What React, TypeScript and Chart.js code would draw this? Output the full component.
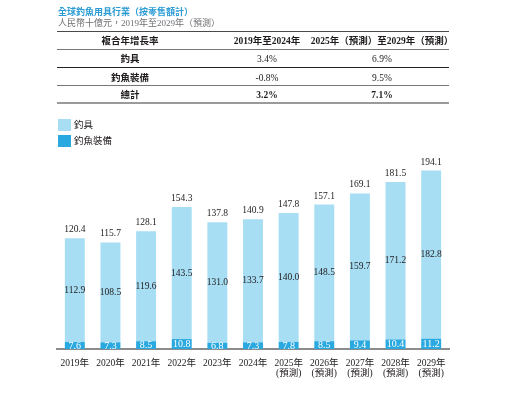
import React, { useEffect, useRef } from "react";
import { Chart, registerables } from "chart.js";

Chart.register(...registerables);

const years = ["2019年", "2020年", "2021年", "2022年", "2023年", "2024年", "2025年", "2026年", "2027年", "2028年", "2029年"];
const forecastNote = "(預測)";
const forecastFrom = 6;
const equipment = [7.6, 7.3, 8.5, 10.8, 6.8, 7.3, 7.8, 8.5, 9.4, 10.4, 11.2];
const tackle = [112.9, 108.5, 119.6, 143.5, 131.0, 133.7, 140.0, 148.5, 159.7, 171.2, 182.8];
const totals = [120.4, 115.7, 128.1, 154.3, 137.8, 140.9, 147.8, 157.1, 169.1, 181.5, 194.1];

const seriesNames = ["釣具", "釣魚裝備"];
const tableHeader = ["複合年增長率", "2019年至2024年", "2025年（預測）至2029年（預測）"];
const tableRows = [
  ["釣具", "3.4%", "6.9%"],
  ["釣魚裝備", "-0.8%", "9.5%"],
  ["總計", "3.2%", "7.1%"],
];

const LIGHT = "#a7def3";
const DARK = "#29a9e0";
const TEXT = "#1f1b1c";
const FONT = "'Liberation Serif', 'Noto Sans CJK TC', serif";

const labelPlugin = {
  id: "barLabels",
  afterDatasetsDraw(chart: any) {
    const ctx = chart.ctx;
    const m0 = chart.getDatasetMeta(0);
    const m1 = chart.getDatasetMeta(1);
    ctx.save();
    ctx.textAlign = "center";
    ctx.textBaseline = "middle";
    m0.data.forEach((bar: any, i: number) => {
      const top = m1.data[i];
      ctx.font = `10px ${FONT}`;
      ctx.fillStyle = "#ffffff";
      ctx.fillText(equipment[i].toFixed(1), bar.x, (bar.y + bar.base) / 2 + 0.5);
      ctx.font = `9.5px ${FONT}`;
      ctx.fillStyle = TEXT;
      ctx.fillText(tackle[i].toFixed(1), top.x, (top.y + top.base) / 2);
      ctx.fillText(totals[i].toFixed(1), top.x, top.y - 8.5);
    });
    ctx.restore();
  },
};

function ChartCanvas() {
  const ref = useRef<HTMLCanvasElement | null>(null);
  useEffect(() => {
    if (!ref.current) return;
    const labels = years.map((y, i) => (i >= forecastFrom ? [y, forecastNote] : [y]));
    const chart = new Chart(ref.current, {
      type: "bar",
      data: {
        labels,
        datasets: [
          { label: seriesNames[1], data: equipment, backgroundColor: DARK, barPercentage: 0.56, categoryPercentage: 1 },
          { label: seriesNames[0], data: tackle, backgroundColor: LIGHT, barPercentage: 0.56, categoryPercentage: 1 },
        ],
      },
      options: {
        animation: false,
        responsive: false,
        maintainAspectRatio: false,
        layout: { padding: { left: 57, right: 65, top: 165, bottom: 0 } },
        plugins: { legend: { display: false }, tooltip: { enabled: false } },
        scales: {
          x: {
            stacked: true,
            grid: { display: false },
            border: { display: true, color: "#8c8c8c", width: 2 },
            ticks: {
              color: TEXT,
              font: { family: FONT, size: 9.5, lineHeight: 1.1 },
              padding: 1,
              maxRotation: 0,
              autoSkip: false,
            },
            afterFit: (scale: any) => {
              scale.height = 45;
            },
          },
          y: { stacked: true, display: false, min: 0, max: 200 },
        },
      },
      plugins: [labelPlugin],
    });
    return () => chart.destroy();
  }, []);
  return <canvas ref={ref} width={514} height={394} style={{ position: "absolute", left: 0, top: 0, width: 514, height: 394 }} />;
}

const abs = (x: number, y: number, extra: React.CSSProperties = {}): React.CSSProperties => ({
  position: "absolute",
  left: x,
  top: y,
  whiteSpace: "nowrap",
  ...extra,
});

export default function App() {
  const colCenters = [130, 267, 382];
  const rowCenters = [59, 77.5, 95];
  const lines = [
    { y: 30.5, h: 1.5, c: "#4a4a4a" },
    { y: 48.5, h: 1.5, c: "#777777" },
    { y: 66.5, h: 1.5, c: "#222222" },
    { y: 84.5, h: 1.5, c: "#777777" },
    { y: 102, h: 2, c: "#9a9a9a" },
  ];
  return (
    <div style={{ position: "absolute", left: 0, top: 0, width: 514, height: 394, background: "#fff", fontFamily: FONT, color: TEXT, overflow: "hidden" }}>
      <ChartCanvas />
      <div style={abs(58, 7, { fontSize: 9, fontWeight: "bold", color: "#2b9bd3", lineHeight: "11px" })}>全球釣魚用具行業（按零售額計）</div>
      <div style={abs(58, 18, { fontSize: 9, color: "#6d6e71", lineHeight: "11px" })}>人民幣十億元，2019年至2029年（預測）</div>
      {lines.map((l, i) => (
        <div key={i} style={{ position: "absolute", left: 57, top: l.y, width: 392, height: l.h, background: l.c }} />
      ))}
      {tableHeader.map((t, i) => (
        <div key={"h" + i} style={abs(colCenters[i], 41, { transform: "translate(-50%,-50%)", fontSize: 9.5, fontWeight: "bold", lineHeight: "12px" })}>
          {t}
        </div>
      ))}
      {tableRows.map((row, r) =>
        row.map((t, c) => (
          <div
            key={"r" + r + c}
            style={abs(colCenters[c], rowCenters[r], {
              transform: "translate(-50%,-50%)",
              fontSize: 9.5,
              fontWeight: r === 2 || c === 0 ? "bold" : "normal",
              lineHeight: "12px",
            })}
          >
            {t}
          </div>
        ))
      )}
      <div style={{ position: "absolute", left: 58, top: 119, width: 12.5, height: 12, background: LIGHT }} />
      <div style={abs(74, 125, { transform: "translateY(-50%)", fontSize: 9.5, lineHeight: "12px" })}>{seriesNames[0]}</div>
      <div style={{ position: "absolute", left: 58, top: 134.5, width: 12.5, height: 12.5, background: DARK }} />
      <div style={abs(74, 141, { transform: "translateY(-50%)", fontSize: 9.5, lineHeight: "12px" })}>{seriesNames[1]}</div>
    </div>
  );
}
